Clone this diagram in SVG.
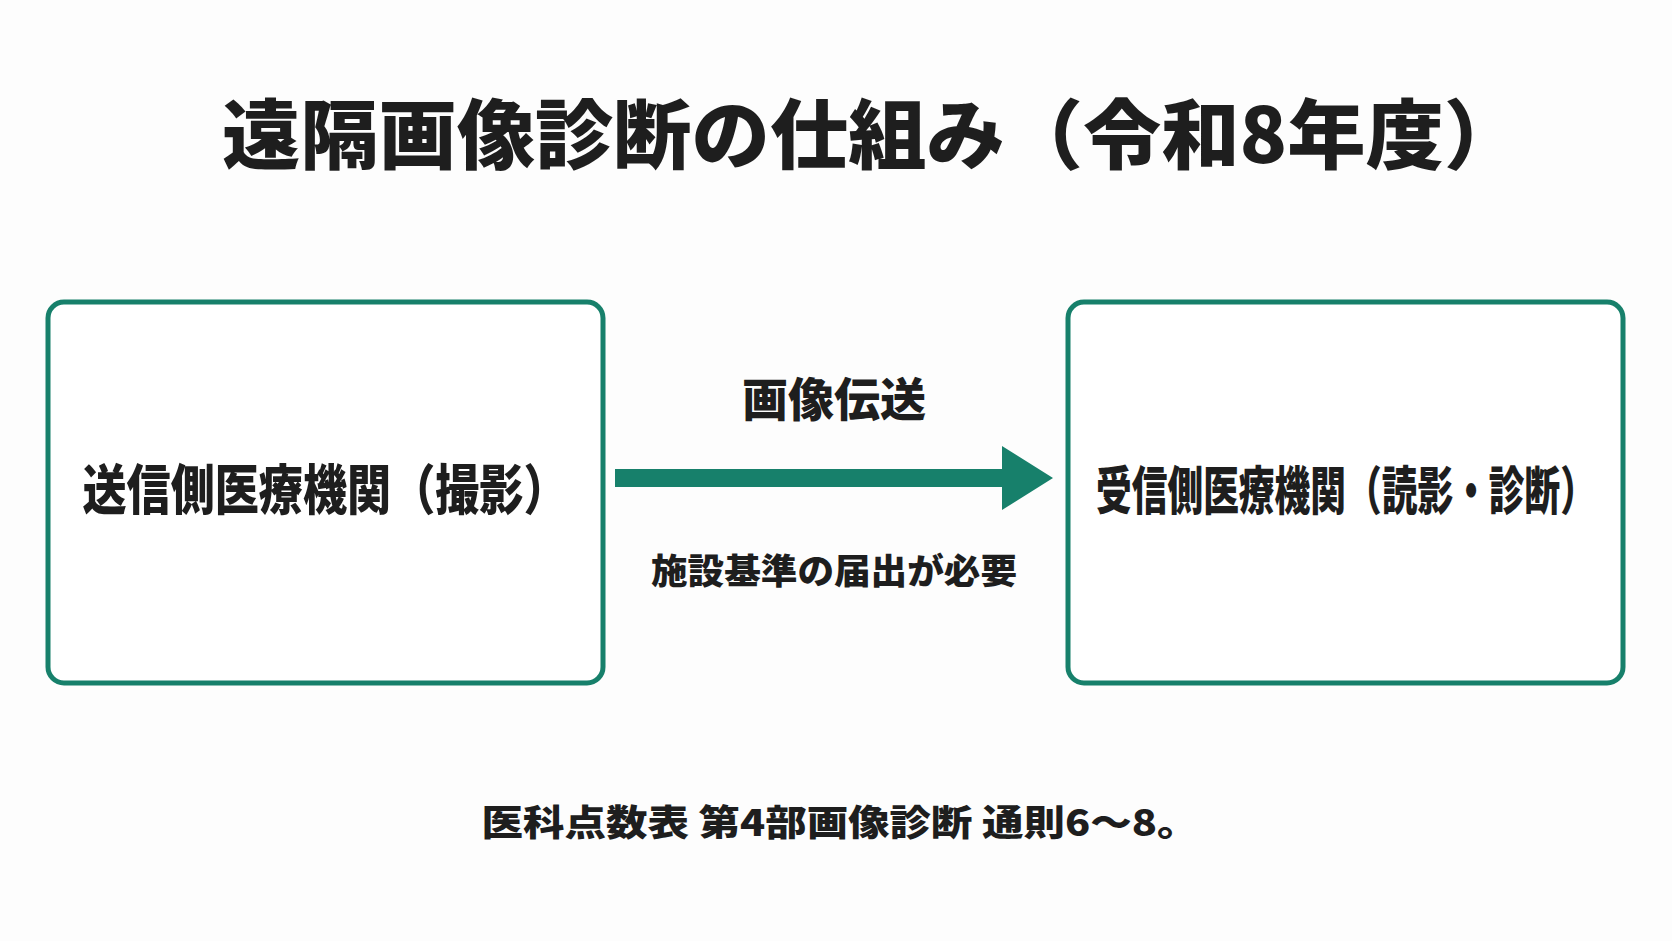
<svg xmlns="http://www.w3.org/2000/svg" width="1672" height="941" viewBox="0 0 1672 941">
<style>
text{font-family:"Noto Sans CJK JP","Noto Sans",sans-serif;font-weight:900;fill:#1e1e1e;text-anchor:middle}
.box{fill:#fff;stroke:#17806b;stroke-width:5}
</style>
<rect width="1672" height="941" fill="#fdfdfd"/>
<text x="872" y="163" font-size="76" textLength="1300" lengthAdjust="spacingAndGlyphs">遠隔画像診断の仕組み（令和8年度）</text>
<g id="sender"><rect class="box" x="48" y="302" width="555" height="381" rx="16"/>
<text x="325" y="510" font-size="54" textLength="485" lengthAdjust="spacingAndGlyphs">送信側医療機関（撮影）</text></g>
<g id="receiver"><rect class="box" x="1068" y="302" width="555" height="381" rx="16"/>
<text x="1346" y="510" font-size="52" textLength="500" lengthAdjust="spacingAndGlyphs">受信側医療機関（読影・診断）</text></g>
<g id="connectors"><polygon fill="#17806b" points="615,469 1002,469 1002,446 1053,478 1002,510 1002,487 615,487"/>
<text x="834" y="416" font-size="46">画像伝送</text>
<text x="834" y="584" font-size="35" textLength="366" lengthAdjust="spacingAndGlyphs">施設基準の届出が必要</text></g>
<text x="840" y="836" font-size="36" textLength="717" lengthAdjust="spacingAndGlyphs">医科点数表 第4部画像診断 通則6〜8。</text>
</svg>
